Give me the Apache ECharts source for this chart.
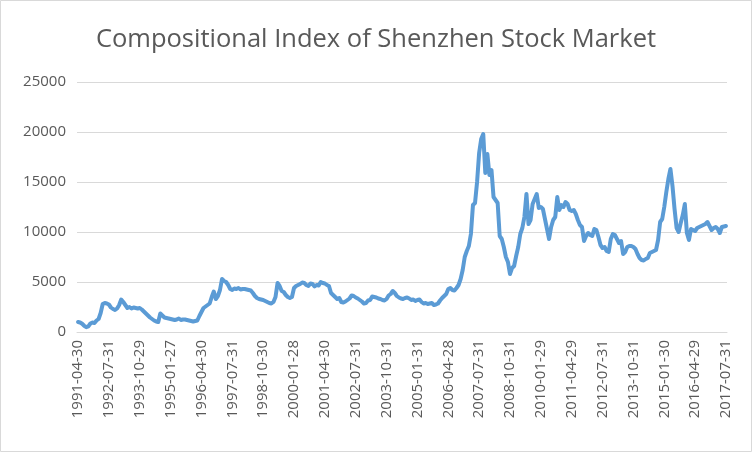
<!DOCTYPE html>
<html>
<head>
<meta charset="utf-8">
<script src="https://cdn.jsdelivr.net/npm/echarts@6/dist/echarts.min.js"></script>
<style>
html,body{margin:0;padding:0;background:#fff;}
#chart{width:752px;height:452px;}
</style>
</head>
<body>
<div id="chart"></div>
<script>
// Tick labels shown on the category axis (every 15th month)
var tickLabels = ["1991-04-30","1992-07-31","1993-10-29","1995-01-27","1996-04-30","1997-07-31","1998-10-30","2000-01-28","2001-04-30","2002-07-31","2003-10-31","2005-01-31","2006-04-28","2007-07-31","2008-10-31","2010-01-29","2011-04-29","2012-07-31","2013-10-31","2015-01-30","2016-04-29","2017-07-31"];
var labelStep = 15;
var firstYear = 1991, firstMonth = 4;

// Monthly closes, April 1991 .. July 2017
var values = [
  1000, 950, 820, 620, 480, 560, 850, 950, 900,                       // 1991 Apr-Dec
  1150, 1300, 1900, 2800, 2900, 2850, 2750, 2450, 2300, 2200, 2350, 2700, // 1992
  3250, 3000, 2700, 2400, 2500, 2350, 2450, 2400, 2350, 2400, 2250, 2050, // 1993
  1850, 1650, 1450, 1300, 1150, 1050, 1000, 1850, 1650, 1450, 1400, 1350, // 1994
  1300, 1250, 1200, 1250, 1350, 1200, 1250, 1250, 1200, 1150, 1100, 1050, // 1995
  1100, 1150, 1600, 2000, 2400, 2550, 2700, 2850, 3500, 4050, 3300, 3600, // 1996
  4200, 5300, 5100, 5000, 4700, 4300, 4200, 4350, 4300, 4400, 4250, 4300, // 1997
  4300, 4250, 4200, 4150, 3900, 3600, 3400, 3300, 3250, 3200, 3100, 3000, // 1998
  2900, 2850, 3000, 3500, 4900, 4600, 4100, 4000, 3700, 3500, 3400, 3500, // 1999
  4400, 4600, 4700, 4800, 4950, 4900, 4700, 4600, 4850, 4800, 4550, 4700, // 2000
  4650, 5000, 4900, 4850, 4700, 4600, 3900, 3700, 3500, 3300, 3400, 3000, // 2001
  2950, 3050, 3200, 3350, 3650, 3600, 3450, 3350, 3200, 3050, 2850, 2900, // 2002
  3150, 3200, 3550, 3500, 3450, 3350, 3300, 3200, 3150, 3300, 3650, 3800, // 2003
  4100, 3900, 3600, 3450, 3350, 3300, 3400, 3450, 3350, 3200, 3250, 3100, // 2004
  3200, 3250, 3000, 2850, 2900, 2800, 2850, 2900, 2700, 2750, 2850, 3150, // 2005
  3400, 3600, 3800, 4300, 4400, 4200, 4150, 4400, 4700, 5300, 6200, 7500, // 2006
  8100, 8600, 9800, 12700, 12900, 15000, 17900, 19300, 19800, 15900, 17800, 15700, // 2007
  16200, 13500, 13200, 12900, 9600, 9300, 8500, 7500, 7000, 5800, 6400, 6600, // 2008
  7600, 8500, 9800, 10400, 11500, 13800, 10800, 11200, 12800, 13300, 13800, 12400, // 2009
  12500, 12300, 11300, 10300, 9300, 10500, 11200, 11500, 13500, 12200, 12700, 12500, // 2010
  13000, 12800, 12200, 12100, 12200, 11800, 11200, 10700, 10500, 9100, 9600, 9900, // 2011
  9700, 9600, 10300, 10200, 9500, 8700, 8400, 8500, 8100, 8000, 9300, 9800, // 2012
  9700, 9300, 8900, 9100, 7800, 8000, 8500, 8600, 8600, 8500, 8300, 7800, // 2013
  7400, 7200, 7150, 7300, 7400, 7900, 8000, 8100, 8200, 9200, 11000, 11300, // 2014
  12500, 14000, 15300, 16300, 14600, 12300, 10400, 10000, 10900, 11700, 12800, 9900, // 2015
  9200, 10300, 10200, 10100, 10400, 10500, 10600, 10700, 10800, 11000, 10600, 10200, // 2016
  10400, 10500, 10300, 9900, 10500, 10550, 10600                          // 2017 Jan-Jul
];

// Category names: labelled months use the tick label text, others a year-month tag
var categories = values.map(function (v, i) {
  if (i % labelStep === 0) return tickLabels[i / labelStep];
  var m = firstMonth - 1 + i;
  var y = firstYear + Math.floor(m / 12);
  var mm = (m % 12) + 1;
  return y + '-' + (mm < 10 ? '0' + mm : mm);
});

var chart = echarts.init(document.getElementById('chart'));
chart.setOption({
  animation: false,
  backgroundColor: '#ffffff',
  title: {
    text: 'Compositional Index of Shenzhen Stock Market',
    left: 'center',
    top: 22,
    textStyle: { fontFamily: 'Open Sans', fontSize: 25.5, fontWeight: 'normal', color: '#595959' }
  },
  graphic: [{
    type: 'rect',
    shape: { x: 0.5, y: 0.5, width: 751, height: 451 },
    style: { fill: 'none', stroke: '#d9d9d9', lineWidth: 1 },
    silent: true
  }],
  grid: { left: 77, right: 25, top: 82, bottom: 120 },
  xAxis: {
    type: 'category',
    data: categories,
    boundaryGap: true,
    axisLine: { lineStyle: { color: '#d9d9d9', width: 1 } },
    axisTick: { show: false },
    axisLabel: {
      interval: labelStep - 1,
      rotate: 90,
      margin: 8,
      fontFamily: 'Open Sans',
      fontSize: 15,
      color: '#595959'
    },
    splitLine: { show: false }
  },
  yAxis: {
    type: 'value',
    min: 0,
    max: 25000,
    interval: 5000,
    axisLine: { show: false },
    axisTick: { show: false },
    axisLabel: {
      margin: 11,
      fontFamily: 'Open Sans',
      fontSize: 15,
      color: '#595959',
      formatter: function (v) { return String(v); }
    },
    splitLine: { lineStyle: { color: '#d9d9d9', width: 1 } }
  },
  series: [{
    type: 'line',
    data: values,
    showSymbol: false,
    symbol: 'none',
    lineStyle: { color: '#5b9bd5', width: 4, cap: 'round', join: 'round' },
    itemStyle: { color: '#5b9bd5' }
  }]
});
</script>
</body>
</html>
